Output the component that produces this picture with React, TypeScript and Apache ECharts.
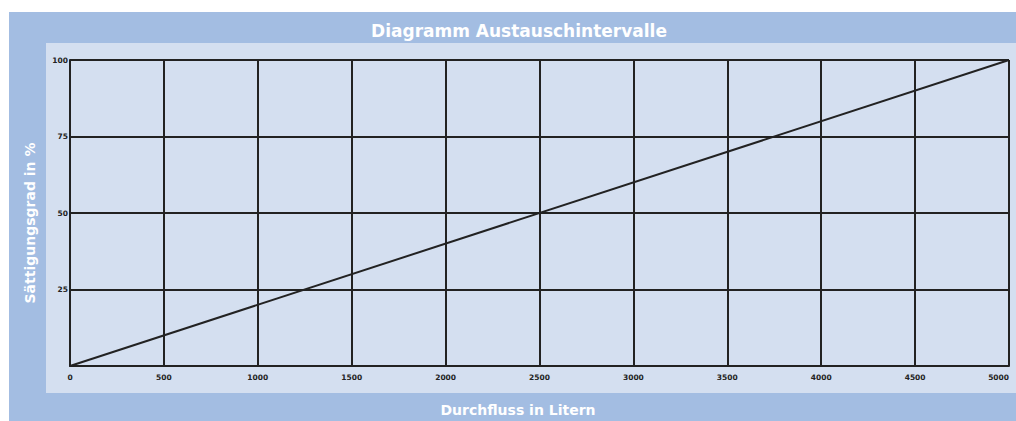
import React, { useEffect, useRef } from "react";
import * as echarts from "echarts";

const titleText = "Diagramm Austauschintervalle";
const xAxisTitle = "Durchfluss in Litern";
const yAxisTitle = "Sättigungsgrad in %";
const xMin = 0;
const xMax = 5000;
const xStep = 500;
const yMin = 0;
const yMax = 100;
const yStep = 25;
const flowLiters = [0, 5000];
const saturationPct = [0, 100];

export default function App() {
  const ref = useRef<HTMLDivElement>(null);
  useEffect(() => {
    if (!ref.current) return;
    const chart = echarts.init(ref.current, null, { renderer: "svg" });
    const font = "DejaVu Sans";
    chart.setOption({
      animation: false,
      backgroundColor: "#ffffff",
      graphic: [
        { type: "rect", z: -10, shape: { x: 9, y: 12, width: 1007, height: 409 }, style: { fill: "#a3bde2" } },
        { type: "rect", z: -9, shape: { x: 46, y: 43, width: 970, height: 350 }, style: { fill: "#d4dff0" } },
        {
          type: "text", x: 519, y: 31,
          style: { text: titleText, fill: "#ffffff", font: `bold 17px "${font}"`, align: "center", verticalAlign: "middle" },
        },
        {
          type: "text", x: 518, y: 410,
          style: { text: xAxisTitle, fill: "#ffffff", font: `bold 14px "${font}"`, align: "center", verticalAlign: "middle" },
        },
        {
          type: "text", x: 30, y: 223, rotation: Math.PI / 2,
          style: { text: yAxisTitle, fill: "#ffffff", font: `bold 14px "${font}"`, align: "center", verticalAlign: "middle" },
        },
      ],
      grid: { left: 70, top: 60, right: 7, bottom: 55, containLabel: false, outerBoundsMode: "none" },
      xAxis: {
        type: "value", min: xMin, max: xMax, interval: xStep,
        axisLine: { show: true, lineStyle: { color: "#222", width: 2 } },
        axisTick: { show: false },
        axisLabel: {
          color: "#222", fontSize: 7.5, fontWeight: "bold", fontFamily: font, margin: 7,
          alignMaxLabel: "right",
          formatter: (v: number) => String(v),
        },
        splitLine: { show: true, lineStyle: { color: "#222", width: 2 } },
      },
      yAxis: {
        type: "value", min: yMin, max: yMax, interval: yStep,
        axisLine: { show: true, lineStyle: { color: "#222", width: 2 } },
        axisTick: { show: false },
        axisLabel: {
          color: "#222", fontSize: 7.5, fontWeight: "bold", fontFamily: font, margin: 2, showMinLabel: false,
          formatter: (v: number) => String(v),
        },
        splitLine: { show: true, lineStyle: { color: "#222", width: 2 } },
      },
      series: [
        {
          type: "line",
          data: flowLiters.map((x, i) => [x, saturationPct[i]]),
          showSymbol: false,
          lineStyle: { color: "#222", width: 2 },
        },
      ],
    });
    return () => chart.dispose();
  }, []);
  return <div ref={ref} style={{ position: "absolute", left: 0, top: 0, width: 1016, height: 421 }} />;
}
